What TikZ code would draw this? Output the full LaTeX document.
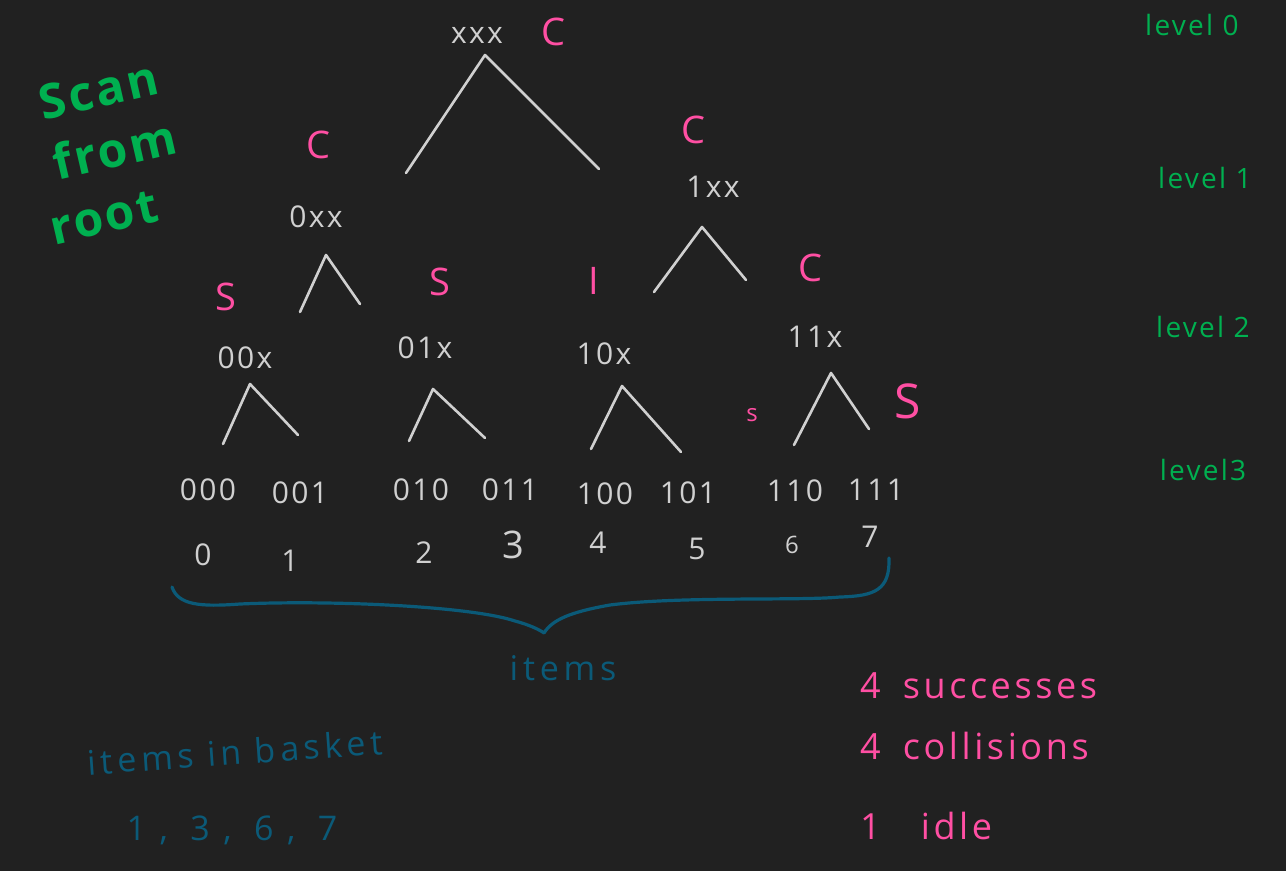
\documentclass[tikz,border=0pt]{standalone}
\usepackage{fontspec}
\setmainfont{Open Sans}
\definecolor{bg}{HTML}{212121}
\definecolor{chalk}{HTML}{D0D0D0}
\definecolor{pinkc}{HTML}{FF4FA3}
\definecolor{greenc}{HTML}{00B050}
\definecolor{tealc}{HTML}{0B5A78}
\tikzset{
  lbl/.style={text=chalk, font=\fontsize{30}{30}\selectfont\addfontfeature{LetterSpace=8}, inner sep=0pt},
  num/.style={text=chalk, font=\fontsize{30}{30}\selectfont, inner sep=0pt},
  pmark/.style={text=pinkc, font=\fontsize{38}{38}\selectfont, inner sep=0pt},
  lvl/.style={text=greenc, font=\fontsize{28}{28}\selectfont\addfontfeature{LetterSpace=8}, inner sep=0pt},
  edge/.style={draw=chalk, line width=2.6pt, line cap=round, line join=round},
  pinktxt/.style={text=pinkc, font=\fontsize{36}{36}\selectfont\addfontfeature{LetterSpace=10}, inner sep=0pt, anchor=west},
  tealtxt/.style={text=tealc, font=\fontsize{34}{34}\selectfont\addfontfeature{LetterSpace=14}, inner sep=0pt},
  scanw/.style={text=greenc, font=\bfseries\fontsize{48}{62}\selectfont\addfontfeature{LetterSpace=6}, rotate=13, inner sep=0pt, align=left},
}
\begin{document}
\begin{tikzpicture}[x=1pt,y=-1pt]
\fill[bg] (0,0) rectangle (1286,871);
\useasboundingbox (0,0) rectangle (1286,871);

% level labels
\node[lvl] (l0) at (1192,25) {level 0};
\node[lvl] (l1) at (1205,178) {level 1};
\node[lvl] (l2) at (1203,327) {level 2};
\node[lvl] (l3) at (1203,470) {level3};

% scan from root
\node[scanw] (scan) at (106,152) {\hspace{18pt}Scan\\\hspace{18pt}from\\root};

% root
\node[lbl] (root) at (477,35) {xxx};
\node[pmark] (mroot) at (553,32) {C};
\coordinate (ra) at (485,55);
\coordinate (rl) at (406,173);
\coordinate (rr) at (599,169);
\draw[edge] (rl) -- (ra) -- (rr);

% level 1
\node[pmark] (m0xx) at (318,145) {C};
\node[pmark] (m1xx) at (693,130) {C};
\node[lbl] (n0xx) at (316,217) {0xx};
\node[lbl] (n1xx) at (713,187) {1xx};
\coordinate (a0) at (326,255);
\coordinate (a0l) at (300,312);
\coordinate (a0r) at (360,304);
\draw[edge] (a0l) -- (a0) -- (a0r);
\coordinate (a1) at (702,227);
\coordinate (a1l) at (654,292);
\coordinate (a1r) at (746,280);
\draw[edge] (a1l) -- (a1) -- (a1r);

% level 2
\node[pmark] (m00) at (226,297) {S};
\node[pmark] (m01) at (440,282) {S};
\node[pmark] (m10) at (594,281) {I};
\node[pmark] (m11) at (810,268) {C};
\node[lbl] (n00) at (245,358) {00x};
\node[lbl] (n01) at (425,348) {01x};
\node[lbl] (n10) at (604,354) {10x};
\node[lbl] (n11) at (815,337) {11x};

\coordinate (b0) at (250,384);
\coordinate (b0l) at (223,444);
\coordinate (b0r) at (298,435);
\draw[edge] (b0l) -- (b0) -- (b0r);
\coordinate (b1) at (433,389);
\coordinate (b1l) at (409,441);
\coordinate (b1r) at (485,438);
\draw[edge] (b1l) -- (b1) -- (b1r);
\coordinate (b2) at (622,386);
\coordinate (b2l) at (591,449);
\coordinate (b2r) at (681,452);
\draw[edge] (b2l) -- (b2) -- (b2r);
\coordinate (b3) at (831,373);
\coordinate (b3l) at (794,445);
\coordinate (b3r) at (869,429);
\draw[edge] (b3l) -- (b3) -- (b3r);

\node[text=pinkc, font=\fontsize{24}{24}\selectfont, inner sep=0pt] (ms6) at (752,415) {s};
\node[text=pinkc, font=\fontsize{48}{48}\selectfont, inner sep=0pt] (ms7) at (908,401) {S};

% leaves
\node[lbl] (c0) at (208,490) {000};
\node[lbl] (c1) at (300,493) {001};
\node[lbl] (c2) at (421,490) {010};
\node[lbl] (c3) at (510,490) {011};
\node[lbl] (c4) at (605,494) {100};
\node[lbl] (c5) at (688,493) {101};
\node[lbl] (c6) at (795,491) {110};
\node[lbl] (c7) at (876,490) {111};

\node[num] (d0) at (203,555) {0};
\node[num] (d1) at (290,561) {1};
\node[num] (d2) at (424,553) {2};
\node[num, font=\fontsize{38}{38}\selectfont] (d3) at (513,545) {3};
\node[num] (d4) at (598,543) {4};
\node[num] (d5) at (697,549) {5};
\node[num, font=\fontsize{24}{24}\selectfont] (d6) at (792,545) {6};
\node[num] (d7) at (870,537) {7};

% brace
\coordinate (bs) at (172,587);
\coordinate (bm) at (544,633);
\coordinate (be) at (889,558);
\draw[tealc, line width=3.2pt, line cap=round, line join=round]
  (bs) .. controls (178,605) and (200,607) .. (240,604)
  .. controls (330,600) and (470,606) .. (515,621)
  .. controls (530,625) and (540,630) .. (bm)
  .. controls (552,620) and (570,612) .. (610,605)
  .. controls (680,596) and (800,601) .. (840,597)
  .. controls (875,596) and (890,590) .. (be);
\node[tealtxt] (items) at (563,668) {items};

% bottom-left
\node[tealtxt, rotate=4] (basket) at (235,752) {items in basket};
\node[tealtxt, font=\fontsize{34}{34}\selectfont\addfontfeature{LetterSpace=40}] (list) at (232,830) {1, 3, 6, 7};

% summary
\node[pinktxt] (succ) at (860,686) {4\hspace{22pt}successes};
\node[pinktxt] (coll) at (860,746) {4\hspace{22pt}collisions};
\node[pinktxt] (idle) at (860,826) {1\hspace{40pt}idle};
\end{tikzpicture}
\end{document}
